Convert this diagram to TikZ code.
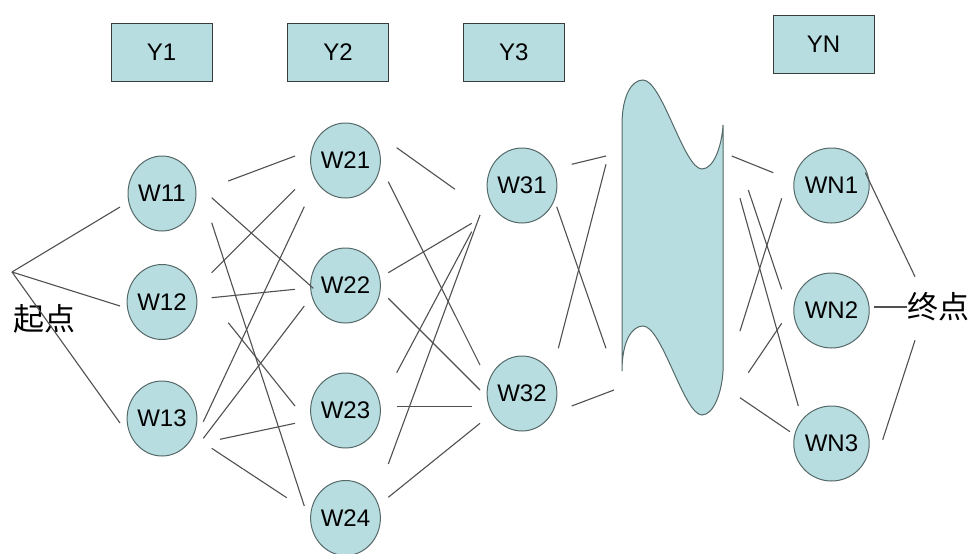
\documentclass[tikz,border=0pt]{standalone}
\usepackage{fontspec}
\setmainfont{Liberation Sans}
\newfontfamily\cjk{Noto Sans CJK SC}
\usetikzlibrary{shapes.geometric}
\definecolor{cell}{RGB}{184,221,225}
\definecolor{rim}{RGB}{85,105,105}
\definecolor{boxrim}{RGB}{55,60,60}
\definecolor{wire}{RGB}{80,80,80}
\newcommand\lk[4]{\draw[link] ([shift={#2}]#1.center) -- ([shift={#4}]#3.center);}
\begin{document}
\begin{tikzpicture}[x=1pt,y=-1pt,
  wnode/.style={ellipse, draw=rim, fill=cell, line width=1pt, minimum width=68pt, minimum height=75pt, inner sep=0pt, font=\fontsize{24}{28}\selectfont},
  ybox/.style={rectangle, draw=boxrim, fill=cell, line width=1pt, minimum width=101pt, minimum height=58pt, inner sep=0pt, font=\fontsize{24}{28}\selectfont},
  link/.style={draw=wire, line width=1.1pt},
  cjklabel/.style={inner sep=0pt, font=\cjk\fontsize{31}{34}\selectfont}]
\useasboundingbox (0,0) rectangle (972,554);
\fill[white] (0,0) rectangle (972,554);

% layer boxes
\node[ybox] (Y1) at (161.5,52) {Y1};
\node[ybox] (Y2) at (338,52) {Y2};
\node[ybox] (Y3) at (513.8,52) {Y3};
\node[ybox] (YN) at (823.5,44) {YN};

% wave shape
\draw[draw=rim, fill=cell, line width=1pt]
  (622,125) .. controls (622,95) and (632,80) .. (643,80)
  .. controls (662,80) and (684,169) .. (702,169)
  .. controls (714,169) and (722,145) .. (723,125)
  -- (723,371)
  .. controls (722,391) and (714,415) .. (702,415)
  .. controls (684,415) and (662,326) .. (643,326)
  .. controls (632,326) and (622,341) .. (622,371) -- cycle;
\coordinate (wave) at (672,248);

% nodes
\node[wnode] (W11) at (162,193.5) {W11};
\node[wnode] (W12) at (162,302) {W12};
\node[wnode] (W13) at (162,418.5) {W13};
\node[wnode] (W21) at (345.5,160.5) {W21};
\node[wnode] (W22) at (345.5,285.5) {W22};
\node[wnode] (W23) at (345.5,410.5) {W23};
\node[wnode] (W24) at (345.5,518) {W24};
\node[wnode] (W31) at (522,185.5) {W31};
\node[wnode] (W32) at (522,393.5) {W32};
\node[wnode] (WN1) at (831.5,185.5) {WN1};
\node[wnode] (WN2) at (831.5,310.5) {WN2};
\node[wnode] (WN3) at (831.5,443.5) {WN3};

\coordinate (start) at (12,272);
\node[cjklabel] (qidian) at (44,319) {起点};
\node[cjklabel] (zhongdian) at (938.5,306.5) {终点};

% start -> layer 1
\draw[link] (start) -- ([shift={(-42,13.5)}]W11.center);
\draw[link] (start) -- ([shift={(-42,4)}]W12.center);
\draw[link] (start) -- ([shift={(-42,4.5)}]W13.center);

% layer 1 -> layer 2
\lk{W11}{(66.3,-12.5)}{W21}{(-50.5,-4.5)}
\lk{W11}{(49.7,4.2)}{W22}{(-32.2,2.8)}
\lk{W11}{(49.7,29.2)}{W24}{(-41.2,-12)}
\lk{W12}{(49.7,-29.3)}{W21}{(-50.5,28.8)}
\lk{W12}{(49.7,-4.3)}{W22}{(-50.5,3.8)}
\lk{W12}{(66.3,20.7)}{W23}{(-50.5,-4.5)}
\lk{W13}{(41.3,3.2)}{W21}{(-41.2,46.2)}
\lk{W13}{(41.3,19.8)}{W22}{(-41.2,20.5)}
\lk{W13}{(58,20.8)}{W23}{(-50.5,12.8)}
\lk{W13}{(49.7,29.8)}{W24}{(-58.8,-20.3)}

% layer 2 -> layer 3
\lk{W21}{(51.2,-12.8)}{W31}{(-67,3.8)}
\lk{W21}{(42.8,21.2)}{W32}{(-42,-28.5)}
\lk{W22}{(42.8,-12.8)}{W31}{(-50.3,37.8)}
\lk{W22}{(42.8,12.8)}{W32}{(-42,-3.5)}
\lk{W23}{(51.2,-37.8)}{W31}{(-50.3,46.2)}
\lk{W23}{(51.2,-3.8)}{W32}{(-50.3,13.2)}
\lk{W24}{(42.8,-54)}{W31}{(-42,29.5)}
\lk{W24}{(42.8,-20.7)}{W32}{(-42,29.8)}

% layer 3 -> wave
\lk{W31}{(49.7,-21.2)}{wave}{(-66,-92)}
\lk{W31}{(34.7,21.2)}{wave}{(-66,100.3)}
\lk{W32}{(36.3,-45.2)}{wave}{(-66,-83.7)}
\lk{W32}{(49.7,12.5)}{wave}{(-58,142)}

% wave -> layer N
\lk{wave}{(59.7,-92)}{WN1}{(-58.2,-12.8)}
\lk{wave}{(76.3,-58)}{WN2}{(-49.8,-21.2)}
\lk{wave}{(68,-49.7)}{WN3}{(-33.2,-37.5)}
\lk{wave}{(68,83)}{WN1}{(-49.8,12.8)}
\lk{wave}{(76.3,124.7)}{WN2}{(-49.8,12.8)}
\lk{wave}{(68,149.7)}{WN3}{(-41.5,-11.8)}

% layer N -> end
\lk{WN1}{(33.8,-12.8)}{zhongdian}{(-23.5,-29.8)}
\lk{WN3}{(51.2,-3.8)}{zhongdian}{(-23.5,33.8)}
\lk{WN2}{(42.5,-3.5)}{zhongdian}{(-31.5,0.5)}
\end{tikzpicture}
\end{document}
